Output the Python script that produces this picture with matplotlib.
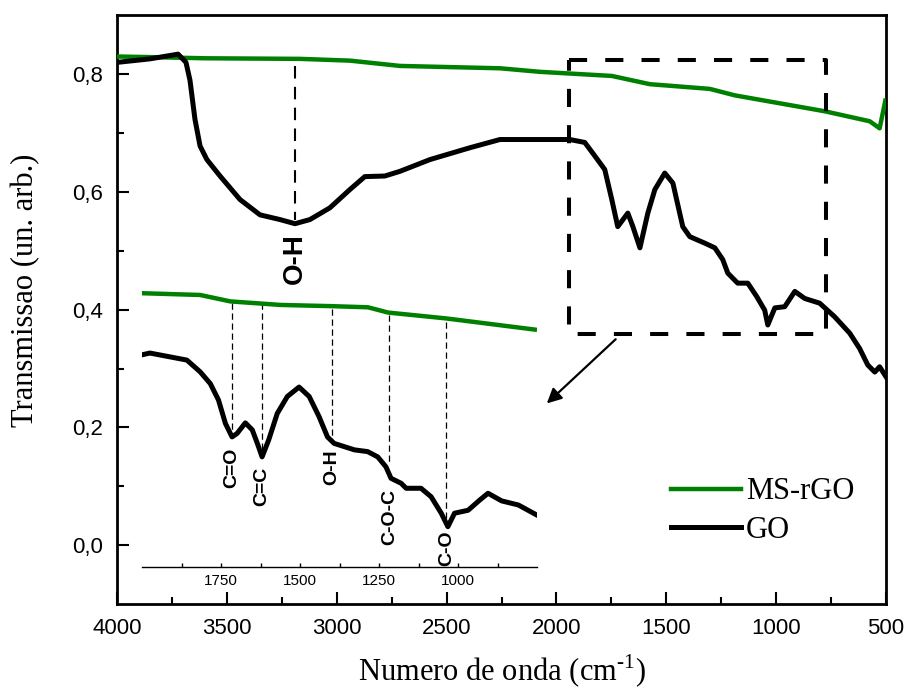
import matplotlib
matplotlib.use('Agg')
import matplotlib.pyplot as plt
from matplotlib.ticker import MultipleLocator, FixedLocator

# ---- main spectra (wavenumber cm-1, transmission) ----
ms_rgo_wn = [4000, 3850, 3600, 3167, 2940, 2712, 2257, 2076, 1748, 1575,
             1302, 1188, 779, 574, 529, 503]
ms_rgo_t = [0.830, 0.829, 0.827, 0.826, 0.823, 0.814, 0.810, 0.804, 0.797, 0.783,
            0.775, 0.764, 0.737, 0.720, 0.708, 0.755]

go_wn = [4000, 3850, 3722, 3686, 3668, 3645, 3622, 3591, 3531, 3440, 3349, 3258,
         3190, 3122, 3031, 2940, 2872, 2781, 2712, 2575, 2394, 2257, 2076, 1939,
         1871, 1825, 1780, 1748, 1721, 1675, 1652, 1620, 1584, 1552, 1507, 1470,
         1425, 1393, 1325, 1279, 1243, 1220, 1175, 1129, 1088, 1052, 1038, 1006,
         961, 915, 870, 802, 734, 665, 620, 583, 551, 529, 500]
go_t = [0.820, 0.826, 0.834, 0.820, 0.790, 0.723, 0.678, 0.655, 0.627, 0.587, 0.561, 0.553,
        0.546, 0.553, 0.573, 0.604, 0.626, 0.627, 0.635, 0.655, 0.675, 0.689, 0.689, 0.689,
        0.684, 0.661, 0.638, 0.587, 0.541, 0.564, 0.541, 0.505, 0.564, 0.604, 0.632, 0.615,
        0.541, 0.524, 0.513, 0.505, 0.485, 0.462, 0.445, 0.445, 0.422, 0.399, 0.374, 0.403,
        0.405, 0.431, 0.419, 0.411, 0.388, 0.360, 0.334, 0.306, 0.294, 0.303, 0.286]

# ---- zoomed region (inset), same transmission scale shifted down ----
ins_rgo_wn = [2000, 1816, 1720, 1561, 1403, 1285, 1221, 1037, 757]
ins_rgo_t = [0.428, 0.425, 0.414, 0.408, 0.406, 0.404, 0.395, 0.385, 0.366]

ins_go_wn = [2000, 1975, 1858, 1816, 1784, 1758, 1736, 1715, 1699, 1673, 1651, 1635,
             1620, 1599, 1572, 1540, 1503, 1471, 1440, 1413, 1392, 1328, 1286, 1254,
             1228, 1212, 1180, 1164, 1117, 1085, 1053, 1032, 1011, 968, 931, 905,
             862, 809, 751]
ins_go_t = [0.323, 0.326, 0.314, 0.294, 0.274, 0.246, 0.206, 0.183, 0.189, 0.207, 0.195, 0.172,
            0.149, 0.178, 0.223, 0.252, 0.268, 0.252, 0.218, 0.183, 0.172, 0.161, 0.158, 0.149,
            0.132, 0.1125, 0.104, 0.0955, 0.0955, 0.081, 0.053, 0.030, 0.053, 0.058, 0.0755, 0.087,
            0.074, 0.067, 0.050]

# band markers in the inset: position, top/bottom of dashed line, label, label centre
bands_wn = [1716, 1620, 1400, 1217, 1037]
bands_top = [0.411, 0.411, 0.401, 0.391, 0.379]
bands_bot = [0.192, 0.158, 0.178, 0.138, 0.030]
bands_lbl = ['C=O', 'C=C', 'O-H', 'C-O-C', 'C-O']
bands_lbl_y = [0.130, 0.099, 0.132, 0.046, -0.006]

green = '#008000'
sans = 'Liberation Sans'
serif = 'Liberation Serif'
plt.rcParams['mathtext.fontset'] = 'custom'
plt.rcParams['mathtext.rm'] = serif

fig = plt.figure(figsize=(9.09, 6.91), dpi=100)
ax = fig.add_axes([117 / 909, 1 - 604 / 691, 769 / 909, 588.7 / 691])

ax.plot(ms_rgo_wn, ms_rgo_t, color=green, lw=3.2, label='MS-rGO', zorder=3)
ax.plot(go_wn, go_t, color='black', lw=3.6, label='GO', zorder=3)

ax.set_xlim(4000, 500)
ax.set_ylim(-0.1, 0.9)
ax.xaxis.set_major_locator(MultipleLocator(500))
ax.xaxis.set_minor_locator(MultipleLocator(250))
ax.yaxis.set_major_locator(FixedLocator([0.0, 0.2, 0.4, 0.6, 0.8]))
ax.yaxis.set_minor_locator(FixedLocator([0.1, 0.3, 0.5, 0.7]))
ax.set_yticklabels(['0,0', '0,2', '0,4', '0,6', '0,8'])
ax.tick_params(which='both', direction='in', width=1.5, top=False, right=False)
ax.tick_params(which='major', length=8.5, pad=10, labelsize=16)
ax.tick_params(which='minor', length=5)
for lab in ax.get_xticklabels() + ax.get_yticklabels():
    lab.set_family(sans)
for sp in ax.spines.values():
    sp.set_linewidth(2.0)

ax.set_xlabel(r'Numero de onda (cm$^{\text{-1}}$)', family=serif, fontsize=22, labelpad=10)
ax.set_ylabel('Transmissao (un. arb.)', family=serif, fontsize=22)
ax.yaxis.set_label_coords(-0.100, 0.532)

# O-H band on the main curve
ax.plot([3190, 3190], [0.814, 0.553], color='black', lw=1.5, ls=(0, (6, 4)), zorder=2)
ax.text(3190, 0.486, 'O-H', rotation=90, ha='center', va='center',
        family=sans, fontsize=20, fontweight='bold')

# dashed box around zoomed region + arrow to inset
ax.plot([1942, 771, 771, 1942, 1942], [0.824, 0.824, 0.3585, 0.3585, 0.824],
        color='black', lw=2.9, ls=(0, (4.5, 4.5)), zorder=4)
ax.annotate('', xy=(2053, 0.2375), xytext=(1721, 0.353),
            arrowprops=dict(arrowstyle='-|>', color='black', lw=1.6, mutation_scale=22))

leg = ax.legend(loc='center left', bbox_to_anchor=(0.70, 0.158), frameon=False,
                borderpad=0, handlelength=2.3, handletextpad=0.16, labelspacing=0.3,
                prop={'family': serif, 'size': 22})

# ---- inset ----
ins = fig.add_axes([142 / 909, 1 - 567 / 691, 395 / 909, 282 / 691])
ins.patch.set_alpha(0)
ins.plot(ins_rgo_wn, ins_rgo_t, color=green, lw=3.2)
ins.plot(ins_go_wn, ins_go_t, color='black', lw=3.6)
for wn, t0, t1, lbl, ly in zip(bands_wn, bands_top, bands_bot, bands_lbl, bands_lbl_y):
    ins.plot([wn, wn], [t0, t1], color='black', lw=0.9, ls=(0, (5, 3)), zorder=1)
    ins.text(wn, ly, lbl, rotation=90, ha='center', va='center',
             family=sans, fontsize=14, fontweight='bold')
ins.set_xlim(2000, 750)
ins.set_ylim(-0.0387, 0.442)
ins.xaxis.set_major_locator(FixedLocator([1750, 1500, 1250, 1000]))
ins.xaxis.set_minor_locator(FixedLocator([1875, 1625, 1375, 1125, 875]))
ins.set_yticks([])
for s in ['left', 'right', 'top']:
    ins.spines[s].set_visible(False)
ins.spines['bottom'].set_linewidth(1.0)
ins.tick_params(which='both', direction='in', length=3, width=1.0, labelsize=11, pad=5)
for lab in ins.get_xticklabels():
    lab.set_family(sans)

fig.savefig('out.png', dpi=100)
